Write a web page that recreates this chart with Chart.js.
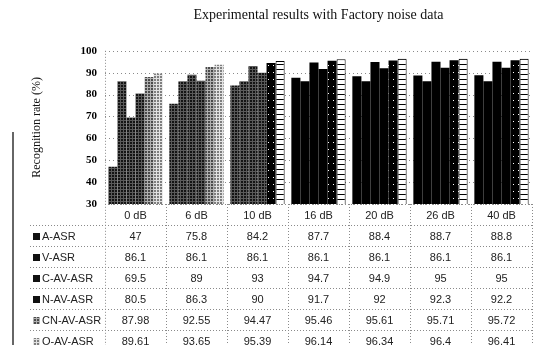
<!DOCTYPE html>
<html>
<head>
<meta charset="utf-8">
<script src="https://cdn.jsdelivr.net/npm/chart.js@4/dist/chart.umd.min.js"></script>
<style>
  html, body { margin: 0; padding: 0; background: #fff; }
  #wrap { width: 558px; height: 345px; }
</style>
</head>
<body>
<div id="wrap"><canvas id="c" width="558" height="345"></canvas></div>
<script>
// Noise levels (columns of the table) and systems (rows)
const categories = ['0 dB', '6 dB', '10 dB', '16 dB', '20 dB', '26 dB', '40 dB'];
const seriesNames = ['A-ASR', 'V-ASR', 'C-AV-ASR', 'N-AV-ASR', 'CN-AV-ASR', 'O-AV-ASR'];

// Recognition rate (%) per noise level
const aAsr    = [47, 75.8, 84.2, 87.7, 88.4, 88.7, 88.8];
const vAsr    = [86.1, 86.1, 86.1, 86.1, 86.1, 86.1, 86.1];
const cAvAsr  = [69.5, 89, 93, 94.7, 94.9, 95, 95];
const nAvAsr  = [80.5, 86.3, 90, 91.7, 92, 92.3, 92.2];
const cnAvAsr = [87.98, 92.55, 94.47, 95.46, 95.61, 95.71, 95.72];
const oAvAsr  = [89.61, 93.65, 95.39, 96.14, 96.34, 96.4, 96.41];

const yMin = 30, yMax = 100, yStep = 10;

// --- hatch / screen fills ---
function tile(w, h, paint) {
  const c = document.createElement('canvas');
  c.width = w; c.height = h;
  const g = c.getContext('2d');
  paint(g);
  return g.createPattern(c, 'repeat');
}
function grid(base, line) {
  return tile(3, 3, g => {
    g.fillStyle = base; g.fillRect(0, 0, 3, 3);
    g.fillStyle = line; g.fillRect(0, 0, 3, 1); g.fillRect(0, 0, 1, 3);
  });
}
const darkGrid  = grid('#141414', '#5a5a5a');
const midGrid   = grid('#4a4a4a', '#b0b0b0');
const lightGrid = grid('#7e7e7e', '#e2e2e2');
const speckle = tile(5, 7, g => {
  g.fillStyle = '#000'; g.fillRect(0, 0, 5, 7);
  g.fillStyle = '#fff'; g.fillRect(3, 2, 1, 1);
});
const ladder = tile(4, 5, g => {
  g.fillStyle = '#fff'; g.fillRect(0, 0, 4, 5);
  g.fillStyle = '#000'; g.fillRect(0, 4, 4, 1);
});

// fill per column: screened in the low-SNR columns, solid in the rest
function fills(screen, solid, firstSolid) {
  return categories.map((_, i) => i >= firstSolid ? solid : screen);
}

const seriesValues = [aAsr, vAsr, cAvAsr, nAvAsr, cnAvAsr, oAvAsr];
const seriesFills = [
  fills(darkGrid, '#000', 3),
  fills(darkGrid, '#000', 3),
  fills(darkGrid, '#000', 3),
  fills(darkGrid, '#000', 3),
  fills(midGrid, speckle, 2),
  fills(lightGrid, ladder, 2)
];
const swatchFills = ['#111', '#111', '#111', '#111', midGrid, lightGrid];

const datasets = seriesNames.map((name, i) => ({
  label: name,
  data: seriesValues[i],
  backgroundColor: seriesFills[i],
  borderColor: '#000',
  borderWidth: i === 5 ? categories.map((_, k) => k >= 2 ? 1 : 0) : 0,
  borderSkipped: 'bottom',
  barPercentage: 1.0,
  categoryPercentage: 0.89
}));

const sansFont = '11px "Liberation Sans", Arial, sans-serif';

// dotted value gridlines behind the bars
const dottedGrid = {
  id: 'dottedGrid',
  beforeDatasetsDraw(chart) {
    const { ctx, chartArea: a, scales: { y } } = chart;
    ctx.save();
    ctx.strokeStyle = '#8a8a8a';
    ctx.lineWidth = 1;
    ctx.setLineDash([1, 3]);
    y.ticks.forEach(t => {
      const yy = Math.round(y.getPixelForValue(t.value)) + 0.5;
      ctx.beginPath(); ctx.moveTo(a.left, yy); ctx.lineTo(a.right, yy); ctx.stroke();
    });
    ctx.restore();
  }
};

// data table drawn under the plot, aligned to the category scale
const dataTable = {
  id: 'dataTable',
  afterDraw(chart) {
    const { ctx, chartArea: a, scales: { x } } = chart;
    const top = a.bottom;
    const rowH = 21;
    const colW = (a.right - a.left) / categories.length;
    const bottom = chart.height;
    const line = (x1, y1, x2, y2) => { ctx.beginPath(); ctx.moveTo(x1, y1); ctx.lineTo(x2, y2); ctx.stroke(); };

    ctx.save();
    ctx.strokeStyle = '#8a8a8a';
    ctx.lineWidth = 1;
    ctx.setLineDash([1, 2]);
    // plot left edge continued through the table
    line(Math.round(a.left) + 0.5, a.top, Math.round(a.left) + 0.5, bottom);
    for (let i = 1; i <= categories.length; i++) {
      const xx = Math.round(a.left + i * colW) + 0.5;
      line(xx, top, xx, bottom);
    }
    line(a.left, Math.round(top) + 0.5, a.right, Math.round(top) + 0.5);
    for (let r = 1; r <= seriesNames.length; r++) {
      const yy = Math.round(top + r * rowH) + 0.5;
      line(30, yy, a.right, yy);
    }
    ctx.setLineDash([]);

    // frame edge at the far left
    ctx.strokeStyle = '#666';
    ctx.lineWidth = 2;
    line(13, 132, 13, bottom);

    ctx.fillStyle = '#222';
    ctx.font = sansFont;
    ctx.textBaseline = 'middle';
    ctx.textAlign = 'center';
    categories.forEach((c, i) => ctx.fillText(c, x.getPixelForValue(i), top + rowH / 2 + 1));

    seriesNames.forEach((name, r) => {
      const cy = top + (r + 1) * rowH + rowH / 2 + 1;
      ctx.fillStyle = swatchFills[r];
      ctx.fillRect(33, Math.round(cy - 4), 7, 7);
      ctx.fillStyle = '#222';
      ctx.textAlign = 'left';
      ctx.fillText(name, 42, cy);
      ctx.textAlign = 'center';
      seriesValues[r].forEach((v, i) => ctx.fillText(String(v), x.getPixelForValue(i), cy));
    });
    ctx.restore();
  }
};

new Chart(document.getElementById('c'), {
  type: 'bar',
  data: { labels: categories, datasets },
  options: {
    responsive: false,
    animation: false,
    devicePixelRatio: 1,
    layout: { padding: { left: 20, right: 26, top: 0, bottom: 141 } },
    plugins: {
      legend: { display: false },
      tooltip: { enabled: false },
      title: {
        display: true,
        fullSize: false,
        text: 'Experimental results with Factory noise data',
        color: '#111',
        font: { family: '"Liberation Serif", "Times New Roman", serif', size: 14, weight: 'normal' },
        padding: { top: 7, bottom: 27 }
      }
    },
    scales: {
      x: { display: false },
      y: {
        min: yMin,
        max: yMax,
        afterFit(scale) { scale.width = 85; },
        ticks: {
          stepSize: yStep,
          padding: 8,
          color: '#000',
          font: { family: '"Liberation Serif", "Times New Roman", serif', size: 11, weight: 'bold' }
        },
        grid: { display: false, drawTicks: false },
        border: { display: false },
        title: {
          display: true,
          text: 'Recognition rate (%)',
          color: '#111',
          font: { family: '"Liberation Serif", "Times New Roman", serif', size: 12 },
          padding: { top: 10, bottom: 0 }
        }
      }
    }
  },
  plugins: [dottedGrid, dataTable]
});
</script>
</body>
</html>
